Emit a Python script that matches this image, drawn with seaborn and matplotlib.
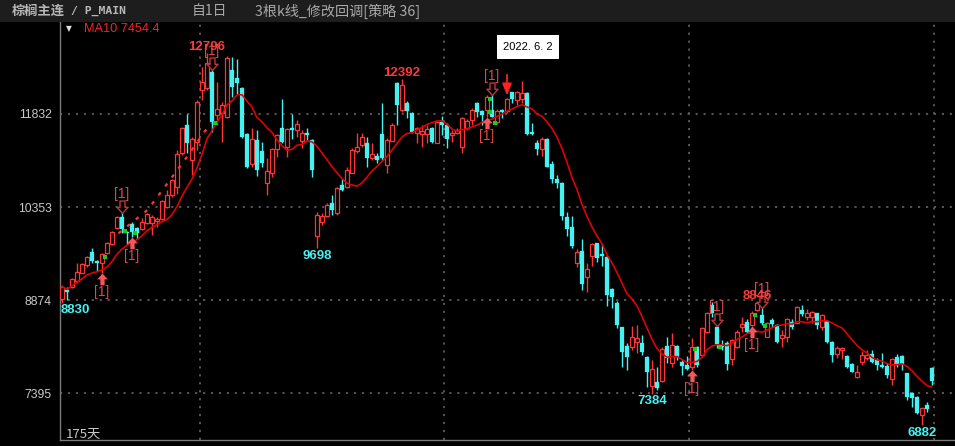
import numpy as np
import pandas as pd
import matplotlib
matplotlib.use("Agg")
import matplotlib.pyplot as plt
from matplotlib.path import Path
from matplotlib.patches import Rectangle
import seaborn as sns

# daily bars (175 days)
opens = [
    8886, 9034, 9081, 9181, 9309, 9431, 9643, 9499, 9463, 9617,
    9765, 10019, 10199, 9956, 10083, 10019, 10003, 10094, 10094, 10135,
    10162, 10358, 10544, 10676, 11212, 11657, 11101, 11392, 12214, 12245,
    12505, 11816, 11848, 11780, 12532, 12404, 12241, 11514, 11037, 11419,
    11244, 10740, 10889, 11271, 11605, 11303, 11605, 11578, 11407, 11525,
    11419, 9892, 10120, 10210, 10412, 10253, 10703, 10676, 10899, 11248,
    11339, 11376, 11128, 11164, 11514, 11021, 11407, 12330, 11896, 12012,
    11843, 11525, 11514, 11514, 11605, 11376, 11710, 11657, 11498, 11535,
    11303, 11605, 11737, 12002, 11884, 11896, 11896, 11710, 11896, 11884,
    12177, 12055, 12066, 12171, 11546, 11376, 11276, 11434, 11037, 10794,
    10740, 10190, 10040, 9468, 9658, 9245, 9574, 9776, 9606, 9563,
    9045, 8832, 8441, 8143, 8132, 8212, 8196, 7964, 7507, 7576,
    7591, 8143, 7878, 8143, 7894, 7841, 7814, 8123, 8000, 8371,
    8795, 8450, 8159, 8196, 7932, 8132, 8441, 8530, 8477, 8716,
    8636, 8291, 8557, 8477, 8266, 8291, 8530, 8514, 8716, 8609,
    8609, 8663, 8441, 8545, 8212, 8016, 8080, 7984, 7857, 7646,
    7894, 7948, 8016, 7921, 7841, 7825, 7614, 7964, 7984, 7709,
    7401, 7337, 7046, 7205, 7789,
]
highs = [
    9113, 9086, 9224, 9463, 9458, 9574, 9697, 9511, 9622, 9797,
    9972, 10210, 10253, 9972, 10120, 10035, 10174, 10258, 10226, 10190,
    10465, 10624, 10794, 11260, 11621, 11832, 11471, 12055, 12584, 12796,
    12532, 12346, 12028, 12750, 12743, 12700, 12266, 11525, 11609, 11578,
    11392, 11128, 11287, 11510, 12066, 11605, 11832, 11737, 11578, 11605,
    11430, 10279, 10253, 10412, 10544, 10676, 10794, 10994, 11287, 11525,
    11525, 11471, 11371, 11207, 12011, 11446, 11689, 12346, 12392, 12043,
    11869, 11630, 11657, 11657, 11630, 11725, 11800, 11684, 11578, 11609,
    11789, 11748, 11923, 12028, 11896, 12134, 12134, 11907, 11905, 12082,
    12187, 12203, 12361, 12187, 11684, 11419, 11462, 11450, 11089, 10862,
    10756, 10279, 10210, 9681, 9840, 9468, 9786, 9786, 9765, 9590,
    9060, 8864, 8450, 8186, 8461, 8477, 8318, 7984, 7921, 7814,
    8132, 8291, 8355, 8159, 7921, 7984, 8266, 8143, 8450, 8689,
    8848, 8461, 8239, 8227, 8250, 8398, 8609, 8568, 8700, 8846,
    8743, 8530, 8584, 8493, 8398, 8584, 8568, 8779, 8795, 8727,
    8705, 8673, 8652, 8557, 8227, 8143, 8123, 8000, 7873, 7841,
    8068, 8080, 8080, 7947, 8027, 7868, 7947, 8016, 8000, 7719,
    7417, 7348, 7178, 7258, 7814,
]
lows = [
    8830, 8875, 9065, 9145, 9299, 9404, 9468, 9340, 9304, 9606,
    9749, 10003, 9935, 9749, 9881, 9840, 9988, 10083, 9908, 10031,
    10147, 10333, 10517, 10560, 11180, 11207, 10862, 11260, 12055, 12214,
    11551, 11657, 11392, 11768, 12107, 12150, 11446, 10969, 10994, 10846,
    10994, 10544, 10826, 11153, 11366, 11153, 11430, 11471, 11287, 11419,
    10835, 9698, 10067, 10199, 10226, 10226, 10613, 10651, 10889, 11207,
    11312, 10994, 11101, 11048, 11101, 10899, 11403, 11657, 11869, 11764,
    11525, 11366, 11312, 11371, 11366, 11366, 11498, 11287, 11392, 11514,
    11217, 11578, 11657, 11789, 11657, 11789, 11780, 11673, 11764, 11843,
    12002, 11975, 12002, 11498, 11498, 11180, 11164, 10989, 10740, 10651,
    10147, 9892, 9697, 9404, 9034, 9007, 9415, 9484, 9415, 8779,
    8743, 8425, 7805, 7762, 8080, 8027, 8000, 7496, 7384, 7444,
    7576, 7878, 7814, 7921, 7682, 7762, 7762, 7814, 7973, 8345,
    8609, 8107, 8080, 7762, 7841, 8111, 8371, 8345, 8461, 8705,
    8477, 8281, 8450, 8196, 8132, 8212, 8409, 8504, 8620, 8557,
    8504, 8409, 8398, 8196, 7894, 7948, 7932, 7789, 7730, 7630,
    7841, 7921, 7868, 7762, 7789, 7630, 7523, 7814, 7762, 7285,
    7178, 7062, 6882, 7099, 7523,
]
closes = [
    9086, 9002, 9208, 9325, 9447, 9558, 9499, 9468, 9606, 9786,
    9956, 10194, 9999, 9932, 9961, 9945, 10120, 10242, 10199, 10162,
    10449, 10544, 10783, 11196, 11609, 11366, 11434, 12028, 12346, 12643,
    11710, 11912, 11975, 12718, 12266, 12325, 11462, 10994, 11430, 10942,
    11058, 10926, 11271, 11498, 11392, 11589, 11578, 11673, 11535, 11498,
    10942, 10226, 10210, 10385, 10306, 10651, 10624, 10942, 11260, 11303,
    11462, 11128, 11196, 11101, 11128, 11419, 11657, 11975, 12293, 11884,
    11551, 11605, 11566, 11589, 11392, 11710, 11657, 11430, 11535, 11578,
    11764, 11721, 11896, 11869, 11816, 12098, 11789, 11884, 11869, 12066,
    12066, 12177, 12161, 11514, 11514, 11271, 11434, 10994, 10798, 10730,
    10210, 9999, 9733, 9643, 9129, 9363, 9765, 9538, 9579, 8954,
    8918, 8477, 8053, 7973, 8291, 8266, 8053, 7735, 7773, 7471,
    8091, 7948, 8159, 7964, 7825, 7773, 8132, 7841, 8425, 8673,
    8663, 8175, 8123, 7857, 8239, 8371, 8493, 8371, 8663, 8830,
    8504, 8504, 8493, 8212, 8318, 8568, 8450, 8759, 8652, 8673,
    8689, 8477, 8636, 8212, 8000, 8107, 8107, 7814, 7735, 7735,
    8000, 8000, 7894, 7841, 7805, 7682, 7932, 7841, 7857, 7337,
    7312, 7083, 7153, 7137, 7591,
]

# axis labels / markers
price_ticks = [7395, 8874, 10353, 11832]
month_breaks = [27.5, 76.4, 125.4, 174.4]
buy_bars = [8, 14, 85, 126, 138]
sell_bars = [12, 30, 86, 131, 140]
signal_bar = 89
high_marks = [29, 68, 139]
low_marks = [0, 51, 118, 172]
green_bars = [8, 12, 14, 30, 85, 85, 86, 126, 131, 138, 140]
green_prices = [9563, 9976, 9945, 11694, 12066, 11869, 11694, 8091, 8132, 8636, 8461]
stop_x = [11.3, 17.1, 20.1, 24.3, 28.5, 29.9]
stop_y = [9935, 10306, 10624, 11074, 11551, 11684]

RED = "#ff3535"
CYAN = "#45f2f2"
SIG = "#e04848"

sns.set_style("dark", {"axes.facecolor": "black", "figure.facecolor": "black"})
plt.rcParams["font.family"] = ["Liberation Sans", "Noto Sans CJK SC", "DejaVu Sans"]

df = pd.DataFrame({"o": opens, "h": highs, "l": lows, "c": closes})
df["i"] = np.arange(len(df))
df["ma"] = df["c"].rolling(10, min_periods=1).mean()
up = (df["c"] >= df["o"]).values

fig = plt.figure(figsize=(9.55, 4.46), dpi=100, facecolor="black")
ax = fig.add_axes([60 / 955, 6 / 446, 895 / 955, 418 / 446])
ax.set_facecolor("black")

# header band
fig.add_artist(Rectangle((0, 1 - 22 / 446), 1, 22 / 446, transform=fig.transFigure,
                         facecolor="#1d1d1d", edgecolor="none"))
fig.text(12 / 955, 1 - 11 / 446, "棕榈主连", color="#b8b8b8", fontsize=9.5, weight="bold",
         va="center", family=["Noto Sans CJK SC"])
fig.text(71 / 955, 1 - 11 / 446, "/ P_MAIN", color="#b8b8b8", fontsize=8.2, weight="bold",
         va="center", family=["DejaVu Sans Mono"])
fig.text(192 / 955, 1 - 11 / 446, "自1日", color="#a8a8a8", fontsize=10, va="center",
         family=["Noto Sans CJK SC", "DejaVu Sans"])
fig.text(255 / 955, 1 - 11 / 446, "3根k线_修改回调[策略 36]", color="#a8a8a8", fontsize=10.2,
         va="center", family=["Noto Sans CJK SC", "DejaVu Sans"])
fig.text(66 / 955, 1 - 29 / 446, "▼", color="#dddddd", fontsize=5.5, va="center",
         family=["DejaVu Sans"])
fig.text(84 / 955, 1 - 29 / 446, "MA10 7454.4", color="#ff2020", fontsize=9.2, va="center")

# candles
ax.vlines(df["i"], df["l"], df["h"], colors=np.where(up, RED, CYAN), linewidth=1, zorder=2)
body_lo = np.minimum(df["o"], df["c"])
body_h = np.maximum((df["c"] - df["o"]).abs(), 14)
ax.bar(df["i"][up], body_h[up], bottom=body_lo[up], width=0.62, facecolor="black",
       edgecolor=RED, linewidth=0.9, zorder=3)
ax.bar(df["i"][~up], body_h[~up], bottom=body_lo[~up], width=0.74, facecolor=CYAN,
       edgecolor=CYAN, linewidth=0.2, zorder=3)

# MA10 and strategy line
sns.lineplot(x=df["i"], y=df["ma"], color="#e80000", linewidth=1.15, ax=ax, zorder=4)
ax.plot(stop_x, stop_y, color=RED, linewidth=1.6, linestyle=(0, (1.6, 3.4)), zorder=4)
sns.scatterplot(x=np.array(green_bars) + 0.6, y=green_prices, marker="s", s=7,
                color="#1ccc1c", edgecolor="none", ax=ax, zorder=5)

# signal arrows
up_path = Path([(0, 0), (-0.45, -0.5), (-0.18, -0.5), (-0.18, -1), (0.18, -1),
                (0.18, -0.5), (0.45, -0.5), (0, 0)],
               [Path.MOVETO] + [Path.LINETO] * 6 + [Path.CLOSEPOLY])
dn_path = Path([(0, 0), (-0.45, 0.5), (-0.2, 0.5), (-0.2, 1), (0.2, 1),
                (0.2, 0.5), (0.45, 0.5), (0, 0)],
               [Path.MOVETO] + [Path.LINETO] * 6 + [Path.CLOSEPOLY])
ax.scatter(buy_bars, df["l"].iloc[buy_bars], marker=up_path, s=290, color="#f25858",
           linewidths=0, zorder=6)
ax.scatter(sell_bars, df["h"].iloc[sell_bars], marker=dn_path, s=320, facecolor="black",
           edgecolor="#b83a3a", linewidths=1, zorder=6)
for b in buy_bars:
    ax.annotate("[1]", (b, df["l"][b]), xytext=(0, -14), textcoords="offset points",
                ha="center", va="center", color=SIG, fontsize=10, zorder=7)
for b in sell_bars:
    ax.annotate("[1]", (b, df["h"][b]), xytext=(0, 14), textcoords="offset points",
                ha="center", va="center", color=SIG, fontsize=10, zorder=7)
ax.annotate("", xy=(signal_bar, df["h"][signal_bar]), xytext=(0, 17), textcoords="offset points",
            arrowprops=dict(arrowstyle="-|>,head_length=0.7,head_width=0.28", color="#ff2020",
                            lw=1.3, shrinkA=0, shrinkB=2), zorder=7)

# extreme labels
for b in high_marks:
    ax.annotate(str(df["h"][b]), (b, df["h"][b]), xytext=(0, 0), textcoords="offset points",
                ha="center", va="bottom", color="#ff3838", fontsize=9.5, weight="bold", zorder=6)
for b in low_marks:
    ax.annotate(str(df["l"][b]), (b, df["l"][b]), xytext=(-1 if b == 0 else 0, -1),
                textcoords="offset points", ha="left" if b == 0 else "center", va="top",
                color=CYAN, fontsize=9.5, weight="bold", zorder=6)

# tooltip
fig.text(528 / 955, 1 - 47 / 446, "2022. 6. 2", color="black", fontsize=8, ha="center",
         va="center", bbox=dict(boxstyle="square,pad=0.6", facecolor="white", edgecolor="none"))

ax.text(6 / 895, 6 / 418, "175天", transform=ax.transAxes, color="#c8c8c8",
        fontsize=9.5, va="center", family=["Noto Sans CJK SC"])

# axes styling
ax.set_xlim(-0.4, 178.6)
ax.set_ylim(6648.6, 13294.8)
ax.set_yticks(price_ticks)
ax.set_yticklabels([str(p) for p in price_ticks])
ax.set_xticks(month_breaks)
ax.set_xticklabels([])
ax.tick_params(axis="both", length=0)
ax.tick_params(axis="y", pad=6, labelsize=8.8, labelcolor="#c8c8c8")
ax.grid(True, color="#5c5c5c", linestyle=(0, (1.2, 3.2)), linewidth=1.3)
ax.set_xlabel("")
ax.set_ylabel("")
for side in ["top", "right"]:
    ax.spines[side].set_visible(False)
for side in ["left", "bottom"]:
    ax.spines[side].set_visible(True)
    ax.spines[side].set_color("#7a7a7a")
    ax.spines[side].set_linewidth(1)
if ax.get_legend():
    ax.get_legend().remove()

fig.savefig("out.png", dpi=100, facecolor="black")
